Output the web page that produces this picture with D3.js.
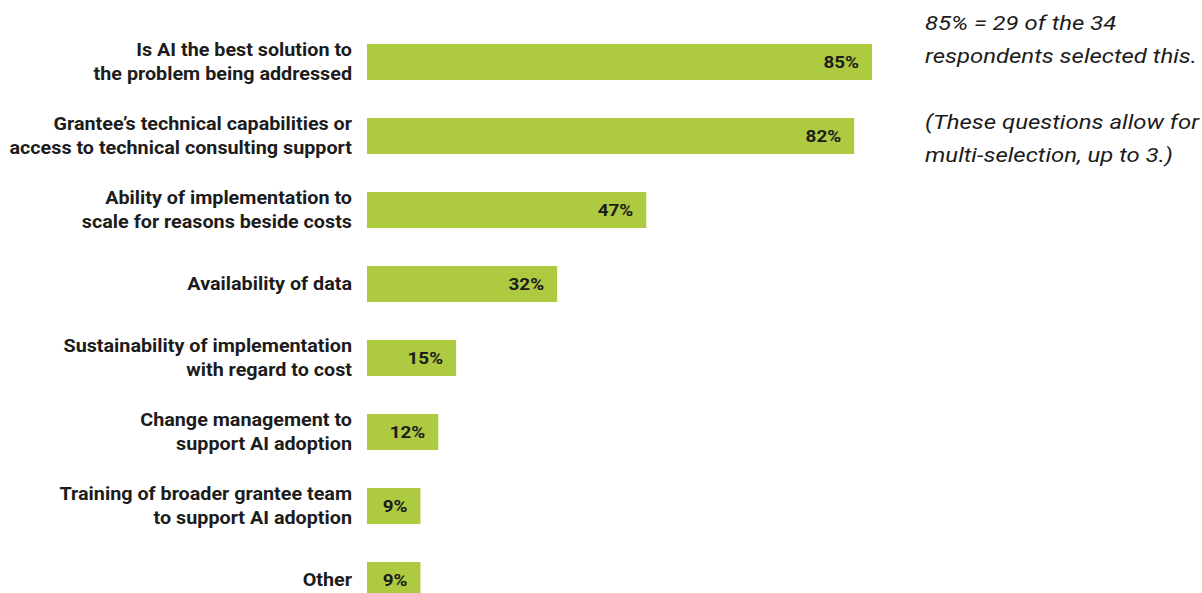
<!DOCTYPE html>
<head>
    <meta charset="utf-8">
    <script src="https://d3js.org/d3.v7.min.js"></script>
    <style>
        body { margin: 0; background: #fff; }
        text { font-family: Roboto, "Noto Sans", sans-serif; }
    </style>
</head>
<body>
<svg width="1202" height="593"></svg>

<script>

    // data
    var categories = [
        ["Is AI the best solution to", "the problem being addressed"],
        ["Grantee\u2019s technical capabilities or", "access to technical consulting support"],
        ["Ability of implementation to", "scale for reasons beside costs"],
        ["Availability of data"],
        ["Sustainability of implementation", "with regard to cost"],
        ["Change management to", "support AI adoption"],
        ["Training of broader grantee team", "to support AI adoption"],
        ["Other"]
    ];
    var percents = [85, 82, 47, 32, 15, 12, 9, 9];
    var noteLines = ["85% = 29 of the 34", "respondents selected this.", "", "(These questions allow for", "multi-selection, up to 3.)"];

    var svg = d3.select("svg"),
        margin = {top: 44, left: 367},
        barH = 36,
        step = 74,
        stretch = 1.11;   // the text in the original is a bit wide

    var x = d3.scaleLinear()
        .domain([0, 85])
        .range([0, 505]);

    var y = d3.scaleBand()
        .domain(d3.range(percents.length))
        .range([0, step * (percents.length - 1) + barH])
        .paddingInner(1 - barH / step)
        .paddingOuter(0);

    var g = svg.append("g").attr("transform", "translate(" + margin.left + "," + margin.top + ")");

    // bars
    g.selectAll("rect")
        .data(percents)
        .enter()
        .append("rect")
        .attr("x", 0)
        .attr("y", function(d, i){ return y(i); })
        .attr("width", function(d){ return x(d); })
        .attr("height", y.bandwidth())
        .attr("fill", "#adca41");

    // values inside bars
    g.selectAll(".val")
        .data(percents)
        .enter()
        .append("text")
        .attr("class", "val")
        .attr("transform", function(d, i){
            return "translate(" + (x(d) - 13) + "," + (y(i) + y.bandwidth() / 2) + ") scale(" + stretch + ",1)";
        })
        .attr("dy", "0.36em")
        .attr("text-anchor", "end")
        .attr("font-size", 17)
        .attr("font-weight", "bold")
        .attr("fill", "#1c1c1c")
        .text(function(d){ return d + "%"; });

    // category labels
    var lab = g.selectAll(".lab")
        .data(categories)
        .enter()
        .append("text")
        .attr("class", "lab")
        .attr("text-anchor", "end")
        .attr("font-size", 17.8)
        .attr("font-weight", "bold")
        .attr("fill", "#1c1c1c")
        .attr("transform", function(d, i){
            return "translate(-15," + (y(i) + y.bandwidth() / 2) + ") scale(" + stretch + ",1)";
        });

    lab.selectAll("tspan")
        .data(function(d){ return d.map(function(t, j){ return {t: t, j: j, n: d.length}; }); })
        .enter()
        .append("tspan")
        .attr("x", 0)
        .attr("y", function(d){ return (d.j - (d.n - 1) / 2) * 24; })
        .attr("dy", "0.36em")
        .text(function(d){ return d.t; });

    // side note
    svg.append("g")
        .selectAll("text")
        .data(noteLines)
        .enter()
        .append("text")
        .attr("transform", function(d, i){ return "translate(925," + (29.5 + i * 33) + ") scale(1.14,1)"; })
        .attr("font-size", 21)
        .attr("font-style", "italic")
        .attr("fill", "#1c1c1c")
        .text(function(d){ return d; });

</script>
</body>
